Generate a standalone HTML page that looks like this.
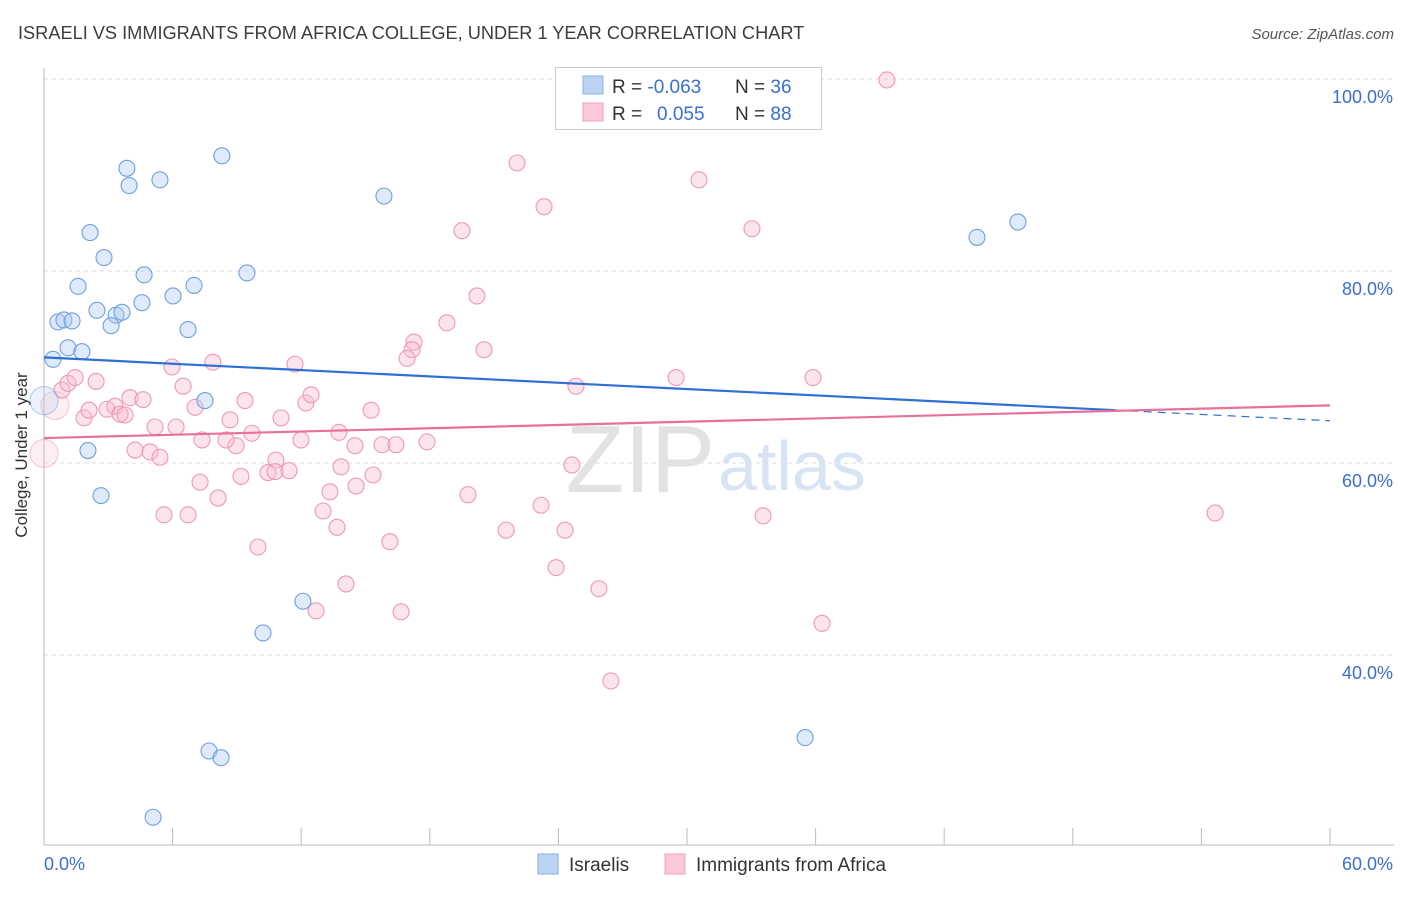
<!DOCTYPE html>
<html><head><meta charset="utf-8"><style>
body{margin:0;background:#fff;font-family:"Liberation Sans",sans-serif;}
svg text{font-family:"Liberation Sans",sans-serif;}
</style></head><body>
<svg width="1406" height="892" xmlns="http://www.w3.org/2000/svg">
<text x="18" y="39" font-size="18.2" fill="#3d3d3d">ISRAELI VS IMMIGRANTS FROM AFRICA COLLEGE, UNDER 1 YEAR CORRELATION CHART</text>
<text x="1394" y="39" font-size="15" fill="#555" font-style="italic" text-anchor="end">Source: ZipAtlas.com</text>
<g id="grid"></g>
<g id="axes"></g>
<text x="715" y="492" font-size="96" fill="#e2e2e2" text-anchor="end" font-family="Liberation Serif">ZIP</text>
<text x="718" y="490" font-size="70" fill="#d8e4f4">atlas</text>
<g id="pts"></g>
<g id="trend"></g>
<text x="27" y="455" font-size="17" fill="#333" text-anchor="middle" transform="rotate(-90 27 455)">College, Under 1 year</text>
<g>
<rect x="555.5" y="67.5" width="266" height="62" fill="#fff" stroke="#ccc"/>
<rect x="583" y="76" width="20" height="18" fill="#bcd4f4" stroke="#8ab0e4"/>
<rect x="583" y="103" width="20" height="18" fill="#fac8d6" stroke="#f0a3bb"/>
<text x="612" y="93" font-size="19" fill="#333">R = <tspan fill="#3a6fd0">-0.063</tspan><tspan x="735">N = </tspan><tspan fill="#3a6fd0">36</tspan></text>
<text x="612" y="120" font-size="19" fill="#333">R = <tspan x="657" fill="#3a6fd0">0.055</tspan><tspan x="735">N = </tspan><tspan fill="#3a6fd0">88</tspan></text>
</g>
<g>
<rect x="538" y="854" width="20" height="20" fill="#bcd4f4" stroke="#8ab0e4"/>
<text x="569" y="871" font-size="19" fill="#333">Israelis</text>
<rect x="665" y="854" width="20" height="20" fill="#fac8d6" stroke="#f0a3bb"/>
<text x="696" y="871" font-size="19" fill="#333">Immigrants from Africa</text>
</g>
</svg>
<script>
const yTicks=[40,60,80,100];
const yTickLabels=["40.0%","60.0%","80.0%","100.0%"];
const xTickLabels=["0.0%","60.0%"];
const blueX=[0.42,0,2.15,3.87,3.97,5.41,8.30,2.80,1.59,4.67,6.02,7.00,9.47,15.86,2.47,3.36,3.64,3.13,4.57,0.65,0.93,1.31,1.12,1.77,6.72,7.51,2.05,2.66,12.08,10.22,7.70,8.26,5.09,35.51,43.53,45.44];
const blueY=[70.8,66.5,84.0,90.7,88.9,89.5,92.0,81.4,78.4,79.6,77.4,78.5,79.8,87.8,75.9,75.4,75.7,74.3,76.7,74.7,74.9,74.8,72.0,71.6,73.9,66.5,61.3,56.6,45.6,42.3,30.0,29.3,23.1,31.4,83.5,85.1];
const pinkX=[39.33,22.07,23.33,30.56,33.03,19.50,20.20,18.80,17.26,17.17,16.94,20.53,11.71,7.88,5.97,24.82,29.49,35.88,54.64,0,0.51,0.84,1.12,1.45,2.43,1.87,2.10,2.94,3.31,3.55,3.78,4.01,4.62,5.18,6.16,6.49,7.05,8.68,9.38,9.70,8.96,7.37,8.49,7.28,8.12,5.60,6.72,4.25,4.95,5.41,9.19,10.82,10.45,10.78,11.43,11.06,11.99,12.22,12.46,13.76,15.26,14.51,15.77,16.42,17.87,13.86,13.34,14.56,15.35,13.02,13.67,16.14,9.98,14.09,12.69,16.66,19.78,21.56,23.19,24.31,23.89,25.89,26.45,24.63,33.55,36.30];
const pinkY=[99.9,91.25,86.7,89.5,84.4,84.2,77.4,74.6,72.6,71.8,70.9,71.8,70.3,70.5,70.0,68.0,68.9,68.9,54.8,61.0,66.0,67.6,68.3,68.9,68.5,64.7,65.5,65.6,65.9,65.1,65.0,66.8,66.6,63.75,63.75,68.0,65.8,64.5,66.5,63.1,61.8,62.4,62.4,58.0,56.35,54.6,54.6,61.35,61.15,60.6,58.6,60.3,59.0,59.1,59.2,64.7,62.4,66.25,67.1,63.2,65.5,61.8,61.9,61.9,62.2,59.6,57.0,57.6,58.75,55.0,53.3,51.8,51.25,47.4,44.6,44.5,56.7,53.0,55.6,53.0,49.1,46.9,37.3,59.8,54.5,43.3];
const blueTrend=[71.0,-0.11];   // intercept, slope
const pinkTrend=[62.6,0.0567];
const blueSolidEnd=50;

const NS="http://www.w3.org/2000/svg";
const X=v=>44+v*1286/60, Y=v=>79+(100-v)*9.6;
function mk(t,a,p){const e=document.createElementNS(NS,t);for(const k in a)e.setAttribute(k,a[k]);p.appendChild(e);return e;}
const grid=document.getElementById('grid'),axes=document.getElementById('axes');
yTicks.forEach((t,i)=>{
  const l=mk('line',{x1:44,x2:1394,y1:Y(t),y2:Y(t),stroke:'#ddd','stroke-dasharray':'4,4'},grid);
  
  
  const tx=mk('text',{x:1393,y:Y(t)+24,'font-size':18,fill:'#3a6fd0','text-anchor':'end'},axes);
  tx.textContent=yTickLabels[i];
  
  
});
mk('line',{x1:44,x2:44,y1:68,y2:845,stroke:'#bbb'},axes);
mk('line',{x1:44,x2:1394,y1:845,y2:845,stroke:'#bbb'},axes);
for(let i=0;i<=10;i++){const t=mk('line',{x1:X(i*6),x2:X(i*6),y1:828,y2:845,stroke:'#bbb'},axes);
  
  }
const x0=mk('text',{x:44,y:870,'font-size':18,fill:'#3a6fd0'},axes);x0.textContent=xTickLabels[0];


const x1=mk('text',{x:1393,y:870,'font-size':18,fill:'#3a6fd0','text-anchor':'end'},axes);x1.textContent=xTickLabels[1];


const pts=document.getElementById('pts');
function dot(x,y,r,fill,stroke,op,name){const c=mk('circle',{cx:X(x),cy:Y(y),r:r,fill:fill,'fill-opacity':op,stroke:stroke,'stroke-opacity':op>0.3?1:0.5,'stroke-width':1.1},pts);
  
  }
pinkX.forEach((x,i)=>{const big=(i==19||i==20);dot(x,pinkY[i],big?14:8,'#f7bcd0','#ee98b4',big?0.25:0.4,'point-africa');});
blueX.forEach((x,i)=>dot(x,blueY[i],i==1?14:8,'#aecbf2','#6f9fe0',i==1?0.25:0.4,'point-israelis'));
const tr=document.getElementById('trend');
const f=(t,x)=>t[0]+t[1]*x;
let l=mk('line',{x1:X(0),y1:Y(f(blueTrend,0)),x2:X(blueSolidEnd),y2:Y(f(blueTrend,blueSolidEnd)),stroke:'#2f6fd6','stroke-width':2.2},tr);


l=mk('line',{x1:X(blueSolidEnd),y1:Y(f(blueTrend,blueSolidEnd)),x2:X(60),y2:Y(f(blueTrend,60)),stroke:'#2f6fd6','stroke-width':1.2,'stroke-dasharray':'8,6'},tr);


l=mk('line',{x1:X(0),y1:Y(f(pinkTrend,0)),x2:X(60),y2:Y(f(pinkTrend,60)),stroke:'#e8709a','stroke-width':2.2},tr);


</script>
</body></html>
